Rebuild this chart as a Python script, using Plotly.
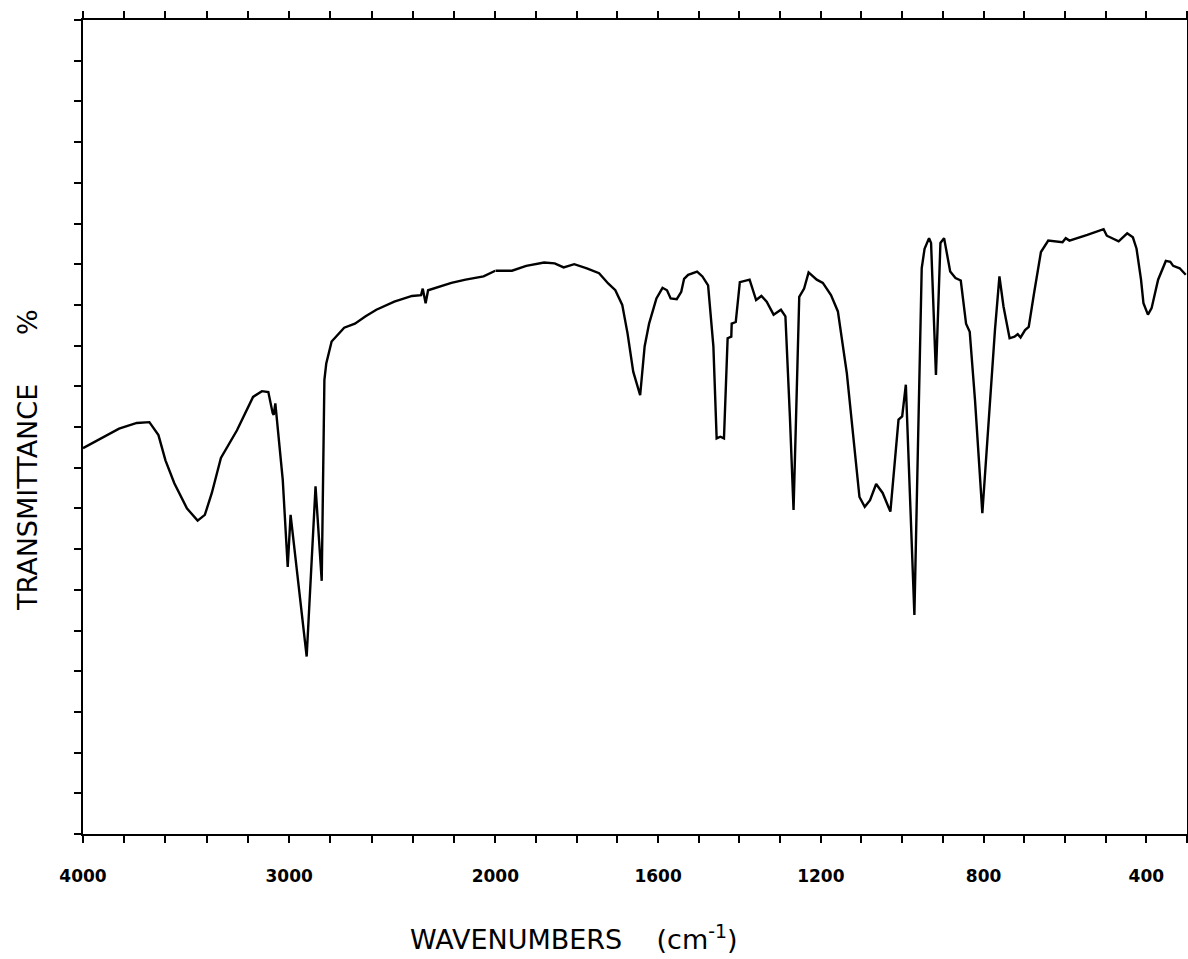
import plotly.graph_objects as go

# Wavenumbers (cm-1) and transmittance (%)
wavenumber = [
    4000, 3964, 3825, 3739, 3678, 3634, 3600, 3557, 3496, 3444, 3409, 3375, 3331,
    3253, 3175, 3132, 3101, 3080, 3075, 3067, 3031, 3007, 2993, 2915, 2872, 2842,
    2829, 2820, 2794, 2733, 2681, 2629, 2577, 2490, 2404, 2360, 2352, 2338, 2326,
    2213, 2144, 2057, 2005, 2000,
    1959, 1924, 1880, 1854, 1832, 1806, 1775, 1745, 1722, 1705, 1688, 1675, 1661,
    1644, 1633, 1622, 1604, 1589, 1578, 1569, 1554, 1543, 1536, 1526, 1504, 1491,
    1477, 1464, 1456, 1447, 1438, 1429, 1420, 1419, 1409, 1399, 1385, 1375, 1359,
    1346, 1333, 1316, 1298, 1287, 1276, 1267, 1261, 1253, 1241, 1230, 1210, 1195,
    1175, 1158, 1136, 1123, 1105, 1092, 1079, 1064, 1048, 1029, 1009, 1000, 991,
    970, 952, 945, 934, 929, 917, 906, 897, 882, 869, 856, 843, 834, 821, 803, 790,
    772, 761, 751, 736, 724, 716, 709, 698, 689, 676, 659, 641, 606, 598, 589, 545,
    505, 497, 468, 447, 433, 424, 413, 407, 396, 387, 371, 352, 341, 334, 318, 303,
]
transmittance = [
    47.4, 47.9, 49.8, 50.5, 50.6, 49.0, 45.9, 43.1, 40.0, 38.5, 39.2, 41.9, 46.2,
    49.6, 53.7, 54.4, 54.3, 51.7, 51.5, 52.9, 43.5, 32.8, 39.2, 21.8, 42.7, 31.1,
    55.8, 57.8, 60.5, 62.2, 62.7, 63.6, 64.4, 65.4, 66.1, 66.2, 67.0, 65.2, 66.8,
    67.7, 68.1, 68.5, 69.2, 69.2,
    69.2, 69.8, 70.2, 70.1, 69.6, 70.0, 69.5, 68.9, 67.6, 66.8, 65.0, 61.5, 56.8,
    53.9, 59.9, 62.7, 65.8, 67.1, 66.8, 65.8, 65.7, 66.6, 68.2, 68.7, 69.1, 68.5,
    67.4, 59.9, 48.6, 48.8, 48.6, 60.9, 61.1, 62.7, 62.9, 67.8, 68.0, 68.1, 65.6,
    66.1, 65.4, 63.8, 64.4, 63.6, 51.3, 39.8, 50.9, 66.0, 67.0, 69.0, 68.1, 67.7,
    66.2, 64.2, 56.6, 50.0, 41.4, 40.2, 41.0, 43.0, 41.9, 39.6, 50.9, 51.3, 55.2,
    26.9, 69.5, 71.9, 73.2, 72.6, 56.4, 72.6, 73.2, 69.1, 68.3, 68.0, 62.7, 61.7, 53.3, 39.4, 49.2,
    61.9, 68.5, 64.8, 60.9, 61.1, 61.4, 61.0, 61.9, 62.3, 66.4, 71.5, 72.9, 72.7, 73.2, 72.9, 73.6,
    74.3, 73.5, 72.8, 73.8, 73.3, 71.9, 68.1, 65.2, 63.8, 64.6, 68.1, 70.4, 70.3, 69.8, 69.5, 68.7,
]

# Axis ticks (the scale doubles below 2000 cm-1)
high_labels = [4000, 3000, 2000]
high_minor = list(range(4000, 1999, -200))
low_labels = [1600, 1200, 800, 400]
low_minor = list(range(1900, 299, -100))
y_ticks = list(range(0, 101, 5))

hi_x = [w for w in wavenumber if w >= 2000]
hi_y = [t for w, t in zip(wavenumber, transmittance) if w >= 2000]
lo_x = [w for w in wavenumber if w <= 2000]
lo_y = [t for w, t in zip(wavenumber, transmittance) if w <= 2000]

W, H = 1188, 959
L, R, T, B = 83, 1, 20, 125
split = (495.3 - L) / (W - L - R)

line_style = dict(color="black", width=2.4)
fig = go.Figure()
fig.add_trace(go.Scatter(x=hi_x, y=hi_y, mode="lines", line=line_style,
                         xaxis="x", yaxis="y", showlegend=False, hoverinfo="skip"))
fig.add_trace(go.Scatter(x=lo_x, y=lo_y, mode="lines", line=line_style,
                         xaxis="x2", yaxis="y2", showlegend=False, hoverinfo="skip"))

tickfont = dict(family="DejaVu Sans", size=17, color="black", weight="bold")
common_x = dict(showgrid=False, zeroline=False, showline=True, linecolor="black",
                linewidth=2, mirror="ticks", ticks="outside", ticklen=7, tickwidth=2,
                tickcolor="black", tickfont=tickfont, ticklabelstandoff=19,
                automargin=False)

fig.update_layout(
    width=W, height=H, autosize=False,
    margin=dict(l=L, r=R, t=T, b=B, autoexpand=False),
    paper_bgcolor="white", plot_bgcolor="white",
    xaxis=dict(domain=[0, split], range=[4000, 2000], anchor="y",
               tickvals=high_labels, ticktext=[str(v) for v in high_labels],
               minor=dict(tickvals=high_minor, ticks="outside", ticklen=7,
                          tickwidth=2, tickcolor="black", showgrid=False),
               **common_x),
    xaxis2=dict(domain=[split, 1], range=[2000, 300], anchor="y2",
                tickvals=low_labels, ticktext=[str(v) for v in low_labels],
                minor=dict(tickvals=low_minor, ticks="outside", ticklen=7,
                           tickwidth=2, tickcolor="black", showgrid=False),
                **common_x),
    yaxis=dict(range=[0, 100], anchor="x", showgrid=False, zeroline=False,
               showline=True, linecolor="black", linewidth=2, ticks="outside",
               ticklen=7, tickwidth=2, tickcolor="black", tickvals=y_ticks,
               showticklabels=False, automargin=False),
    yaxis2=dict(range=[0, 100], anchor="x2", side="right", matches="y",
                showgrid=False, zeroline=False, showline=True, linecolor="black",
                linewidth=2, ticks="", showticklabels=False, automargin=False),
)

title_font = dict(family="DejaVu Sans", size=27, color="black")
fig.add_annotation(text="WAVENUMBERS&nbsp;&nbsp;&nbsp;&nbsp;(cm<sup>-1</sup>)", xref="paper", yref="paper",
                   x=(574 - L) / (W - L - R), y=(834 - 937) / (H - T - B),
                   xanchor="center", yanchor="middle", showarrow=False, font=title_font)
fig.add_annotation(text="TRANSMITTANCE", xref="paper", yref="paper",
                   x=(27 - L) / (W - L - R), y=(834 - 498) / (H - T - B),
                   xanchor="center", yanchor="middle", textangle=-90,
                   showarrow=False, font=title_font)
fig.add_annotation(text="%", xref="paper", yref="paper",
                   x=(27 - L) / (W - L - R), y=(834 - 322) / (H - T - B),
                   xanchor="center", yanchor="middle", textangle=-90,
                   showarrow=False, font=title_font)

fig.write_html("out.html", config={"displayModeBar": False},
               post_script="document.body.style.margin='0';document.body.style.overflow='hidden';")
